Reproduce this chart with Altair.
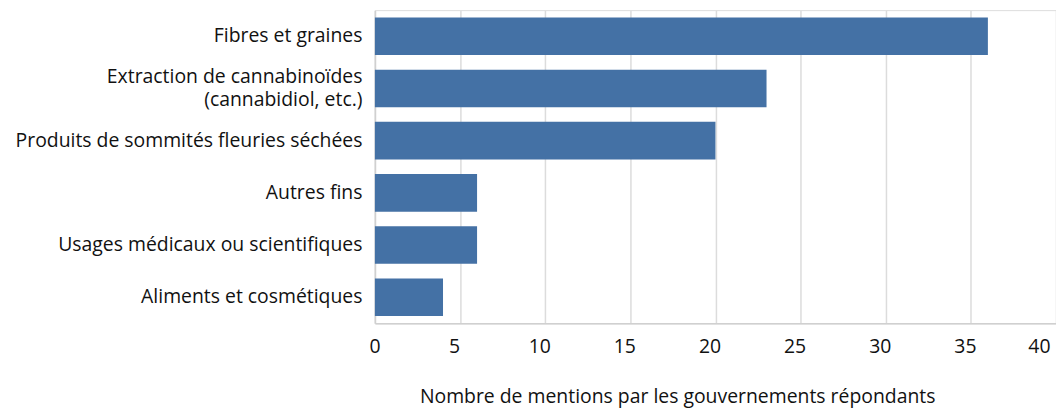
import altair as alt
import pandas as pd

categories = [
    "Fibres et graines",
    "Extraction de cannabinoïdes|(cannabidiol, etc.)",
    "Produits de sommités fleuries séchées",
    "Autres fins",
    "Usages médicaux ou scientifiques",
    "Aliments et cosmétiques",
]
values = [36, 23, 20, 6, 6, 4]
x_ticks = [0, 5, 10, 15, 20, 25, 30, 35, 40]

df = pd.DataFrame({"cat": categories, "val": values})
FONT = "Open Sans"
FS = 19.5

chart = (
    alt.Chart(df)
    .mark_bar(color="#4471A5")
    .encode(
        x=alt.X(
            "val:Q",
            scale=alt.Scale(domain=[0, 40], nice=False),
            axis=alt.Axis(
                values=x_ticks,
                title="Nombre de mentions par les gouvernements répondants",
                titleFont=FONT,
                titleFontSize=FS,
                titleFontWeight="normal",
                titleColor="#111",
                titleX=304,
                titleY=80,
                titleBaseline="alphabetic",
                titleAlign="center",
                titleAnchor="start",
                labelFont=FONT,
                labelFontSize=FS,
                labelColor="#111",
                labelOffset=-6,
                labelPadding=14,
                ticks=False,
                grid=True,
                gridColor="#dcdcdc",
                gridWidth=1.5,
                domainColor="#d0d0d0",
                domainWidth=1.5,
            ),
        ),
        y=alt.Y(
            "cat:N",
            sort=categories,
            scale=alt.Scale(paddingInner=0.28, paddingOuter=0.14),
            axis=alt.Axis(
                title=None,
                labelFont=FONT,
                labelFontSize=FS,
                labelColor="#111",
                labelPadding=13,
                labelLineHeight=23,
                labelLimit=0,
                labelExpr="split(datum.label, '|')",
                labelOffset={
                    "condition": {"test": "indexof(datum.value, '|') >= 0", "value": -11},
                    "value": 0,
                },
                ticks=False,
                domainColor="#d0d0d0",
                domainWidth=1.5,
            ),
        ),
    )
    .properties(
        width=685,
        height=315,
        autosize=alt.AutoSizeParams(type="none"),
        padding={"left": 369, "top": 1, "right": 0, "bottom": 86},
    )
    .configure_view(stroke=None)
    .configure(background="white")
)

chart.save("out.html", embed_options={"renderer": "svg", "actions": False})
